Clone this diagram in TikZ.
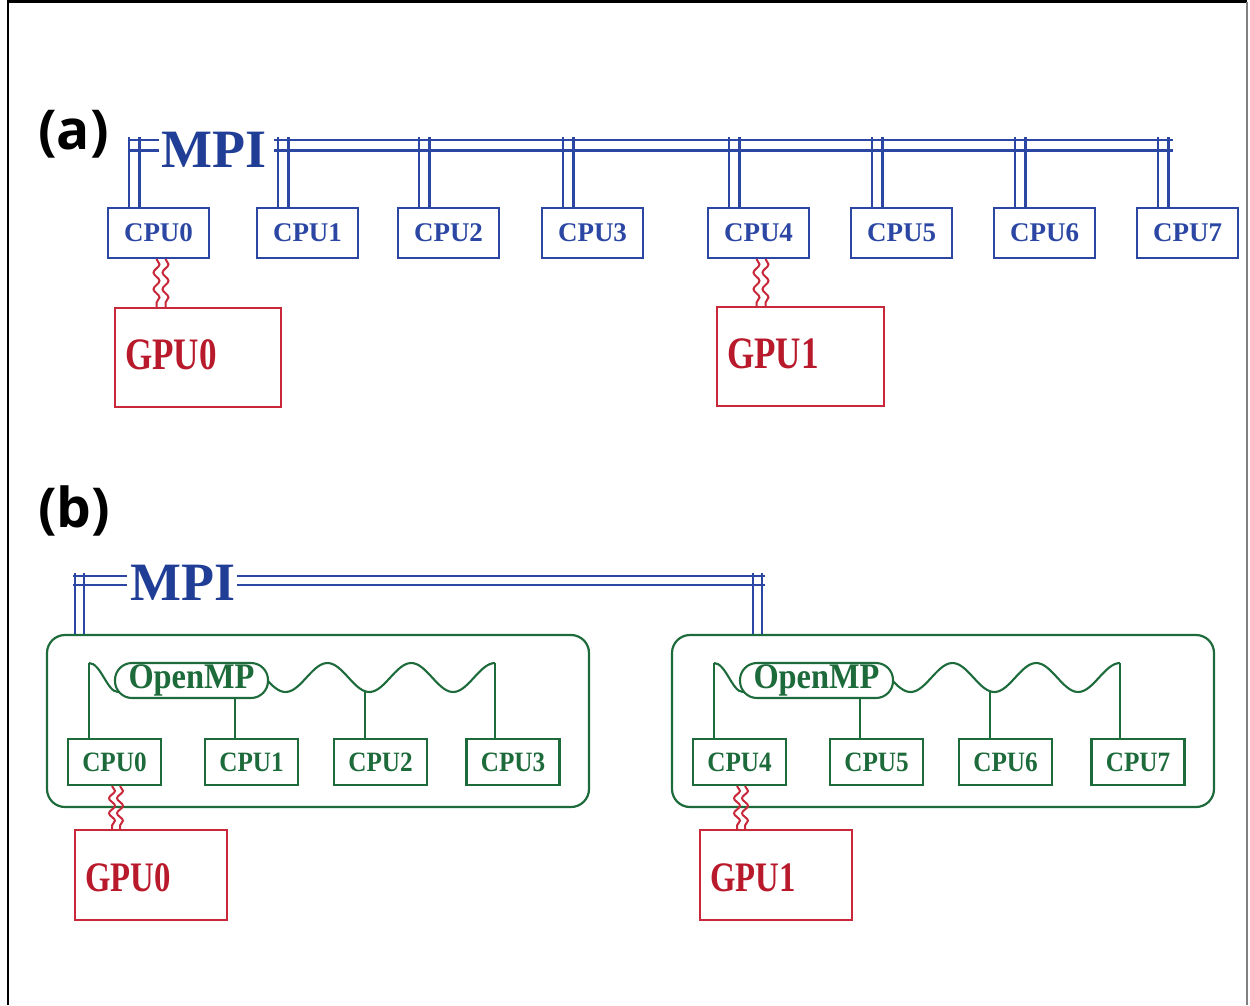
\documentclass[tikz,border=0pt]{standalone}
\usepackage{fontspec}
\setmainfont{Liberation Serif}
\newfontfamily\labfont{Open Sans}
\newfontfamily\condfont[FakeStretch=0.78]{Liberation Serif}
\newfontfamily\semifont[FakeStretch=0.9]{Liberation Serif}
\usetikzlibrary{decorations.pathmorphing}
\definecolor{mblue}{HTML}{2B47A3}
\definecolor{tblue}{HTML}{213E96}
\definecolor{mred}{HTML}{C8283A}
\definecolor{tred}{HTML}{B81A2C}
\definecolor{mgreen}{HTML}{1D6B3B}
\begin{document}
\begin{tikzpicture}[x=1pt,y=-1pt,line join=miter,
  frameline/.style={line width=2.2pt},
  bus/.style={draw=mblue,line width=2.1pt},
  cpuA/.style={draw=mblue,line width=2.1pt,minimum width=101pt,minimum height=50pt,inner sep=0pt,text=mblue,font=\fontsize{27}{30}\selectfont\bfseries},
  cpuB/.style={draw=mgreen,line width=2.1pt,minimum width=93pt,minimum height=46pt,inner sep=0pt,text=mgreen,font=\semifont\bfseries\fontsize{28}{30}\selectfont},
  gpubox/.style={draw=mred,line width=2.1pt,inner sep=0pt},
  gputxt/.style={anchor=west,inner sep=0pt,text=tred,font=\condfont\bfseries\fontsize{#1}{48}\selectfont},
  mpitxt/.style={anchor=base west,inner sep=0pt,text=tblue,font=\fontsize{54}{60}\selectfont\bfseries},
  labtxt/.style={anchor=base west,inner sep=0pt,font=\labfont\bfseries\fontsize{55}{60}\selectfont},
  wavy/.style={draw=mred,line width=2pt,decorate,decoration={snake,amplitude=3pt,segment length=#1}},
  gline/.style={draw=mgreen,line width=2.1pt},
  gbox/.style={draw=mgreen,line width=2.2pt,rounded corners=18pt,inner sep=0pt,minimum width=542pt,minimum height=172pt},
  omp/.style={draw=mgreen,line width=2.1pt,fill=white,rounded corners=17pt,inner sep=0pt,minimum width=153pt,minimum height=35pt,text=mgreen,font=\semifont\bfseries\fontsize{36}{40}\selectfont}]
\useasboundingbox (0,0) rectangle (1250,1005);
% frame
\draw[frameline] (8,1005) -- (8,1.5) -- (1247,1.5);
\draw[line width=1.5pt,gray] (1247,1.5) -- (1247,1005);

% ---------------- (a) ----------------
\node[labtxt] (la) at (38,149) {(a)};
\node[mpitxt] (mpiA) at (161,167) {MPI};
\coordinate (abustop) at (0,137);
\foreach \i/\cx in {0/158.5,1/307.5,2/448.5,3/592.5,4/758.5,5/901.5,6/1044.5,7/1187.5}{
  \node[cpuA] (a\i) at (\cx,233) {CPU\i};
  \coordinate (ta\i) at ([xshift=22pt]a\i.north west);
  \coordinate (tb\i) at ([xshift=32.5pt]a\i.north west);
  \draw[bus] (ta\i) -- (ta\i |- abustop);
  \draw[bus] (tb\i) -- (tb\i |- abustop);
}
\coordinate (abl1) at (128,140);  \coordinate (abl2) at (159,140);
\coordinate (abl3) at (128,150.5);\coordinate (abl4) at (159,150.5);
\coordinate (abr1) at (274,140);  \coordinate (abr2) at (1173,140);
\coordinate (abr3) at (274,150.5);\coordinate (abr4) at (1173,150.5);
\draw[bus] (abl1) -- (abl2);
\draw[bus] (abl3) -- (abl4);
\draw[bus] (abr1) -- (abr2);
\draw[bus] (abr3) -- (abr4);

\node[gpubox,minimum width=166pt,minimum height=99pt] (ga0) at (198,357.5) {};
\node[gputxt=45] (gta0) at ([xshift=11pt,yshift=3pt]ga0.west) {GPU0};
\node[gpubox,minimum width=167pt,minimum height=99pt] (ga1) at (800.5,356.5) {};
\node[gputxt=45] (gta1) at ([xshift=11pt,yshift=3pt]ga1.west) {GPU1};

\foreach \c/\g in {a0/ga0,a4/ga1}{
  \coordinate (w1\c) at ([xshift=-2pt]\c.south);
  \coordinate (w2\c) at ([xshift=7pt]\c.south);
  \draw[wavy=16.6pt] (w1\c) -- (w1\c |- \g.north);
  \draw[wavy=16.6pt] (w2\c) -- (w2\c |- \g.north);
}

% ---------------- (b) ----------------
\node[labtxt] (lb) at (38,527) {(b)};
\node[mpitxt] (mpiB) at (130,600) {MPI};

\foreach \s/\k/\na/\nb/\nc/\nd/\gn in {0/0/0/1/2/3/0,625/1/4/5/6/7/1}{
\begin{scope}[xshift=\s pt]
  \node[gbox] (gb\k) at (318,721) {};
  \node[cpuB] (b\na) at (114.5,762) {CPU\na};
  \node[cpuB] (b\nb) at (251.5,762) {CPU\nb};
  \node[cpuB] (b\nc) at (380.5,762) {CPU\nc};
  \node[cpuB] (b\nd) at (513,762) {CPU\nd};
  \coordinate (ws\k) at (89,663);
  \coordinate (we\k) at (495,663);
  \coordinate (wt\k) at (365,691);
  \coordinate (os\k) at (235,698);
  \draw[gline] (ws\k) .. controls (101,663) and (107,692) .. (118,692)
     -- plot[domain=118:495,samples=140] (\x,{677.5+14.5*cos(4.297*(\x-118))});
  \node[omp] (omp\k) at (191.5,680.5) {OpenMP};
  \draw[gline] (ws\k |- b\na.north) -- (ws\k);
  \draw[gline] (os\k |- b\nb.north) -- (os\k);
  \draw[gline] (wt\k |- b\nc.north) -- (wt\k);
  \draw[gline] (we\k |- b\nd.north) -- (we\k);
  \node[gpubox,minimum width=152pt,minimum height=90pt] (gb\gn pu) at (151,875) {};
  \node[gputxt=42] (gtb\gn) at ([xshift=11pt,yshift=-3pt]gb\gn pu.west) {GPU\gn};
  \coordinate (wb1\k) at ([xshift=-2.5pt]b\na.south);
  \coordinate (wb2\k) at ([xshift=5.5pt]b\na.south);
  \draw[wavy=15pt] (wb1\k) -- (wb1\k |- gb\gn pu.north);
  \draw[wavy=15pt] (wb2\k) -- (wb2\k |- gb\gn pu.north);
\end{scope}
}
% MPI bus (b)
\coordinate (bbtop) at (0,573);
\coordinate (bv1) at (75,0);\coordinate (bv2) at (84,0);
\coordinate (bv3) at (753,0);\coordinate (bv4) at (762,0);
\foreach \v in {bv1,bv2}{\draw[bus] (\v |- bbtop) -- (\v |- gb0.north);}
\foreach \v in {bv3,bv4}{\draw[bus] (\v |- bbtop) -- (\v |- gb1.north);}
\coordinate (bbl1) at (73,576);\coordinate (bbl2) at (127,576);
\coordinate (bbl3) at (73,585);\coordinate (bbl4) at (127,585);
\coordinate (bbr1) at (237,576);\coordinate (bbr2) at (765,576);
\coordinate (bbr3) at (237,585);\coordinate (bbr4) at (765,585);
\draw[bus] (bbl1) -- (bbl2);
\draw[bus] (bbl3) -- (bbl4);
\draw[bus] (bbr1) -- (bbr2);
\draw[bus] (bbr3) -- (bbr4);
\end{tikzpicture}
\end{document}
